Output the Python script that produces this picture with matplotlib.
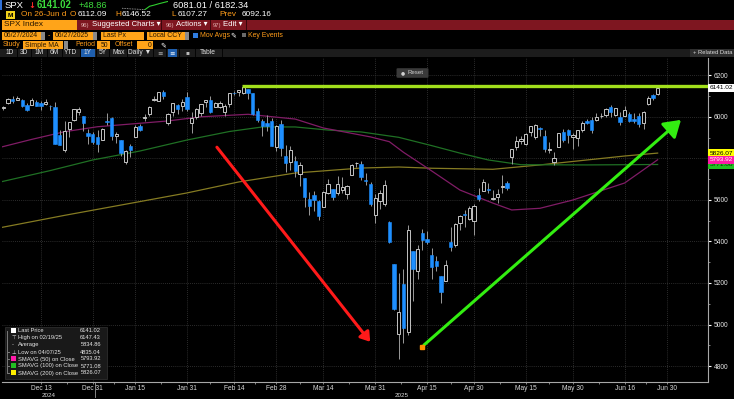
import matplotlib
matplotlib.use('Agg')
import matplotlib.pyplot as plt
from matplotlib import font_manager as fm
from matplotlib.patches import Rectangle, FancyArrowPatch, FancyBboxPatch
import matplotlib.transforms as mtransforms
import numpy as np
import pandas as pd

W, H, DPI = 734, 399, 100

_names = {f.name for f in fm.fontManager.ttflist}
if 'Liberation Sans Narrow' in _names:
    FONT = ['Liberation Sans Narrow', 'DejaVu Sans']
    FS = 1.0
else:
    FONT = ['Liberation Sans', 'DejaVu Sans']
    FS = 0.85
plt.rcParams['font.family'] = FONT

# ---------------- data ----------------
holidays = ['2024-12-25', '2025-01-01', '2025-01-09', '2025-01-20', '2025-02-17',
            '2025-04-18', '2025-05-26', '2025-06-19']
days = pd.bdate_range('2024-12-02', '2025-06-30').difference(pd.to_datetime(holidays))
pos = {d.strftime('%Y-%m-%d'): i for i, d in enumerate(days)}

opens = [
    # Dec 2024
    6040.11, 6042.97, 6069.39, 6089.03, 6081.38, 6083.01, 6057.59, 6060.15, 6074.29, 6068.17,
    6063.79, 6052.55, 6047.65, 5912.71, 5842.00, 5940.25, 5984.63, 6024.97, 6006.17, 5920.67, 5919.74,
    # Jan
    5903.26, 5891.07, 5982.81, 5993.26, 5910.66, 5890.65, 5782.34, 5859.19, 5905.21, 5957.99,
    5995.18, 6014.12, 6081.39, 6076.32, 6121.43, 5969.04, 6026.01, 6057.70, 6050.75, 6096.79,
    # Feb
    5969.65, 5998.14, 6020.45, 6072.22, 6083.13, 6046.40, 6049.32, 6025.08, 6060.59, 6115.52,
    6121.60, 6117.76, 6134.50, 6114.82, 6026.69, 5982.73, 5970.87, 5981.88, 5856.74,
    # Mar
    5968.33, 5811.98, 5781.38, 5785.87, 5726.01, 5705.37, 5603.65, 5624.84, 5594.45, 5563.85,
    5635.60, 5654.53, 5632.37, 5646.92, 5630.73, 5718.08, 5775.96, 5771.66, 5695.64, 5679.11, 5527.91,
    # Apr
    5597.53, 5580.76, 5492.74, 5292.14, 4953.79, 5193.57, 4965.28, 5353.15, 5255.56, 5441.96,
    5411.99, 5335.75, 5305.45, 5232.94, 5207.67, 5395.92, 5381.38, 5489.73, 5529.22, 5508.87, 5499.44,
    # May
    5625.14, 5645.52, 5655.32, 5605.89, 5614.35, 5663.58, 5679.96, 5807.12, 5854.20, 5886.05,
    5869.83, 5929.06, 5902.88, 5944.66, 5910.72, 5841.26, 5781.89, 5854.07, 5925.51, 5938.31, 5903.67,
    # Jun
    5896.68, 5938.56, 5978.94, 5985.67, 5987.06, 6004.60, 6009.91, 6049.38, 6009.90, 6000.56,
    6004.00, 6012.15, 5987.93, 6004.20, 5969.67, 6061.17, 6104.38, 6112.09,
]
highs = [
    6053.58, 6052.06, 6089.84, 6099.97, 6099.97, 6088.51, 6065.40, 6092.59, 6079.68, 6078.58,
    6085.19, 6057.68, 6070.67, 5935.52, 5982.06, 5978.25, 6040.10, 6049.75, 6006.17, 5940.79, 5929.74,
    5935.09, 5949.34, 6021.04, 6000.68, 5927.89, 5890.65, 5838.92, 5871.92, 5960.61, 5964.69,
    6014.96, 6051.51, 6100.81, 6118.73, 6128.18, 6017.17, 6069.10, 6062.83, 6086.64, 6120.91,
    6022.13, 6042.48, 6062.86, 6084.03, 6101.28, 6073.38, 6076.28, 6063.01, 6116.91, 6127.47,
    6129.63, 6147.43, 6134.50, 6114.82, 6043.65, 5992.65, 6009.82, 5993.69, 5959.40,
    5986.09, 5865.08, 5860.59, 5812.08, 5783.01, 5705.37, 5636.30, 5642.19, 5597.78, 5645.27,
    5703.52, 5654.53, 5715.33, 5711.15, 5670.84, 5775.14, 5783.38, 5786.95, 5732.28, 5685.89, 5627.56,
    5650.57, 5695.31, 5499.53, 5292.14, 5246.57, 5267.47, 5481.34, 5353.15, 5381.46, 5459.46,
    5450.41, 5367.24, 5328.31, 5232.94, 5309.60, 5469.69, 5489.40, 5528.11, 5553.66, 5571.95, 5581.84,
    5658.91, 5700.70, 5683.40, 5649.40, 5654.69, 5720.10, 5691.68, 5844.19, 5906.63, 5906.00,
    5924.21, 5958.62, 5968.61, 5953.06, 5938.37, 5878.08, 5829.51, 5924.33, 5939.92, 5943.13, 5922.14,
    5937.40, 5981.35, 5990.48, 5999.70, 6016.87, 6021.31, 6043.01, 6059.40, 6045.43, 6026.16,
    6050.83, 6023.25, 6018.25, 6018.20, 6028.85, 6101.23, 6108.51, 6146.52,
]
lows = [
    6035.33, 6033.39, 6061.06, 6069.18, 6079.98, 6048.63, 6029.89, 6060.15, 6051.25, 6035.77,
    6059.14, 6035.19, 5867.79, 5866.07, 5832.30, 5902.57, 5981.44, 6007.37, 5932.95, 5869.16, 5868.86,
    5829.53, 5888.66, 5960.01, 5890.68, 5874.78, 5809.86, 5773.31, 5805.48, 5905.21, 5930.92,
    5978.44, 6006.88, 6076.38, 6074.67, 6088.74, 5962.92, 6003.57, 6012.96, 6027.46, 6030.93,
    5923.93, 5990.87, 6007.06, 6046.83, 6019.96, 6045.88, 6042.34, 6003.00, 6050.13, 6107.62,
    6099.51, 6111.15, 6084.59, 6008.56, 5977.83, 5908.49, 5932.69, 5858.78, 5837.66,
    5810.91, 5732.59, 5742.35, 5711.64, 5666.29, 5564.02, 5528.41, 5546.09, 5504.65, 5563.85,
    5631.12, 5597.76, 5622.20, 5632.28, 5603.10, 5718.08, 5759.93, 5694.71, 5670.94, 5572.42, 5488.73,
    5558.52, 5571.48, 5390.83, 5069.90, 4835.04, 4910.42, 4948.43, 5115.27, 5220.77, 5358.02,
    5386.44, 5220.79, 5255.58, 5101.63, 5207.67, 5356.28, 5371.96, 5455.86, 5468.64, 5505.70, 5433.24,
    5597.35, 5644.03, 5634.48, 5598.95, 5585.98, 5635.64, 5646.79, 5775.23, 5843.25, 5869.42,
    5865.21, 5907.54, 5895.69, 5909.26, 5830.91, 5825.82, 5767.41, 5854.07, 5881.88, 5873.80, 5843.66,
    5861.43, 5929.00, 5966.11, 5921.20, 5978.63, 5994.18, 6000.26, 6002.32, 6003.88, 5963.21,
    6004.00, 5974.80, 5971.89, 5952.56, 5943.23, 6058.29, 6080.06, 6107.27,
]
closes = [
    6047.15, 6049.88, 6086.49, 6075.11, 6090.27, 6052.85, 6034.91, 6084.19, 6051.25, 6051.09,
    6074.08, 6050.61, 5872.16, 5867.08, 5930.85, 5974.07, 6040.04, 6037.59, 5970.84, 5906.94, 5881.63,
    5868.55, 5942.47, 5975.38, 5909.03, 5918.25, 5827.04, 5836.22, 5842.91, 5949.91, 5937.34,
    5996.66, 6049.24, 6086.37, 6118.71, 6101.24, 6012.28, 6067.70, 6039.31, 6071.17, 6040.53,
    5994.57, 6037.88, 6061.48, 6083.57, 6025.99, 6066.44, 6068.50, 6051.97, 6115.07, 6114.63,
    6129.58, 6144.15, 6117.52, 6013.13, 5983.25, 5955.25, 5956.06, 5861.57, 5954.50,
    5849.72, 5778.15, 5842.63, 5738.52, 5770.20, 5614.56, 5572.07, 5599.30, 5521.52, 5638.94,
    5675.12, 5614.66, 5675.29, 5662.89, 5667.56, 5767.57, 5776.65, 5712.20, 5693.31, 5580.94, 5611.85,
    5633.07, 5670.97, 5396.52, 5074.08, 5062.25, 4982.77, 5456.90, 5268.05, 5363.36, 5405.97,
    5396.63, 5275.70, 5282.70, 5158.20, 5287.76, 5375.86, 5484.77, 5525.21, 5528.75, 5560.83, 5569.06,
    5604.14, 5686.67, 5650.38, 5606.91, 5631.28, 5663.94, 5659.91, 5844.19, 5886.55, 5892.58,
    5916.93, 5958.38, 5963.60, 5940.46, 5844.61, 5842.01, 5802.82, 5921.54, 5888.55, 5912.17, 5911.69,
    5935.94, 5970.37, 5970.81, 5939.30, 6000.36, 6005.88, 6038.81, 6022.24, 6045.26, 5976.97,
    6033.11, 5982.72, 5980.87, 5967.84, 6025.17, 6092.18, 6092.16, 6141.02,
]

ma50_dates = ['2024-12-02', '2024-12-11', '2024-12-20', '2025-01-02', '2025-01-14', '2025-01-27',
              '2025-02-05', '2025-02-20', '2025-03-06', '2025-03-14', '2025-03-28', '2025-04-03',
              '2025-04-08', '2025-04-16', '2025-04-25', '2025-05-06', '2025-05-12', '2025-05-20',
              '2025-05-30', '2025-06-16', '2025-06-26']
ma50_vals = [5852, 5892, 5929, 5953, 5966, 5981, 6001, 6013, 5990, 5947, 5904, 5881,
             5830, 5740, 5648, 5585, 5552, 5560, 5600, 5682, 5793.92]
ma100_dates = ['2024-12-02', '2024-12-17', '2024-12-31', '2025-01-16', '2025-01-31', '2025-02-13',
               '2025-02-25', '2025-03-06', '2025-03-17', '2025-03-26', '2025-04-07', '2025-04-16',
               '2025-04-25', '2025-05-05', '2025-05-14', '2025-06-04', '2025-06-26']
ma100_vals = [5685, 5742, 5793, 5836, 5889, 5930, 5952, 5952, 5937, 5928, 5902, 5862,
              5826, 5793, 5770, 5769, 5771.08]
ma200_dates = ['2024-12-02', '2024-12-20', '2025-01-14', '2025-01-31', '2025-02-18', '2025-03-06',
               '2025-03-26', '2025-04-07', '2025-04-16', '2025-05-06', '2025-05-20', '2025-06-16',
               '2025-06-26']
ma200_vals = [5465, 5526, 5584, 5634, 5687, 5730, 5754, 5759, 5753, 5748, 5769, 5812, 5826.07]

tick_dates = ['2024-12-13', '2024-12-31', '2025-01-15', '2025-01-31', '2025-02-14', '2025-02-28',
              '2025-03-14', '2025-03-31', '2025-04-15', '2025-04-30', '2025-05-15', '2025-05-30',
              '2025-06-16', '2025-06-30']
tick_labels = ['Dec 13', 'Dec 31', 'Jan 15', 'Jan 31', 'Feb 14', 'Feb 28', 'Mar 14', 'Mar 31',
               'Apr 15', 'Apr 30', 'May 15', 'May 30', 'Jun 16', 'Jun 30']
y_ticks = [4800, 5000, 5200, 5400, 5600, 5800, 6000, 6200]

last_price = 6141.02
high_date, high_value = '2025-02-19', 6147.43
red_arrow_pos, red_arrow_val = [46.0, 79.3], [5865, 4906]
green_arrow_pos, green_arrow_val = [89.9, 145.4], [4892, 5995]
spark_prev = [6100, 6098, 6096, 6095, 6093, 6092]
spark_today = [6092, 6112, 6119, 6127, 6134, 6141]

legend_labels = ['Last Price', 'High on 02/19/25', 'Average', 'Low on 04/07/25',
                 'SMAVG (50) on Close', 'SMAVG (100) on Close', 'SMAVG (200) on Close']
legend_values = ['6141.02', '6147.43', '5834.86', '4835.04', '5793.92', '5771.08', '5826.07']

# ---------------- figure ----------------
fig = plt.figure(figsize=(W / DPI, H / DPI), dpi=DPI, facecolor='black')

ORANGE = '#ffa419'
OTXT = '#ff9c1a'
DARK = '#2a1800'


def T(x, y, s, color='white', size=6.0, weight='normal', ha='left', va='center', family=None, **kw):
    return fig.text(x / W, 1 - y / H, s, color=color, fontsize=size * FS, fontweight=weight,
                    ha=ha, va=va, family=family or FONT, **kw)


def R(x, y, w, h, color, ec='none', lw=0, z=1):
    fig.add_artist(Rectangle((x / W, 1 - (y + h) / H), w / W, h / H, transform=fig.transFigure,
                             facecolor=color, edgecolor=ec, linewidth=lw, zorder=z))


# Row 1
R(0, 0, 2.2, 10, '#2f6fd6')
T(5, 5, 'SPX', size=8)
T(28, 5, '\u2193', color='#ff2a2a', size=7, weight='bold', family=['DejaVu Sans'])
T(37, 5, '6141.02', color='#3ddc3d', size=8.2, weight='bold')
T(79, 5, '+48.86', color='#3ddc3d', size=7.8)
sp = fig.add_axes([122 / W, 1 - 10 / H, 46 / W, 9 / H])
sp.set_axis_off()
sp.plot(range(len(spark_prev)), spark_prev, color='#bbbbbb', lw=0.6, ls=(0, (1, 1)))
sp.plot(range(len(spark_prev) - 1, len(spark_prev) - 1 + len(spark_today)), spark_today,
        color='#2fcf2f', lw=0.8)
sp.set_xlim(0, len(spark_prev) + len(spark_today) - 2)
T(173, 5, '6081.01 / 6182.34', size=7.8)

# Row 2
R(6, 11, 9, 8, '#f2d21b')
T(10.5, 15.2, 'M', color='black', size=5.5, weight='bold', ha='center')
T(21, 15, 'On 26-Jun d', color=OTXT, size=7)
T(70, 15, 'O', color=OTXT, size=7)
T(78, 15, '6112.09', size=7)
T(115, 15, 'H', color=OTXT, size=7)
T(122, 15, '6146.52', size=7)
T(171, 15, 'L', color=OTXT, size=7)
T(178, 15, '6107.27', size=7)
T(219, 15, 'Prev', color=OTXT, size=7)
T(242, 15, '6092.16', size=7)

# Row 3
R(77, 20.5, 657, 9, '#7e1620')
R(2, 20.5, 75, 9, ORANGE)
T(4, 25, 'SPX Index', color=DARK, size=7)
for sx in (161, 210, 246):
    R(sx, 20.5, 1.2, 9, '#3a060b')
T(81, 25, '96)', color='#e0b0b0', size=5)
T(92, 25, 'Suggested Charts \u25be', size=6.6, family=FONT)
T(166, 25, '96)', color='#e0b0b0', size=5)
T(176, 25, 'Actions \u25be', size=6.6)
T(213, 25, '97)', color='#e0b0b0', size=5)
T(223, 25, 'Edit \u25be', size=6.6)

# Row 4
R(2, 31.5, 39, 8, ORANGE); T(4, 35.6, '06/27/2024', color=DARK, size=5.8); R(41, 31.5, 4, 8, '#8a8a8a')
T(48, 35.5, '-', color=OTXT, size=6)
R(53, 31.5, 40, 8, ORANGE); T(55, 35.6, '06/27/2025', color=DARK, size=5.8); R(93, 31.5, 4, 8, '#8a8a8a')
R(101, 31.5, 43, 8, ORANGE); T(103, 35.6, 'Last Px', color=DARK, size=5.8)
R(147, 31.5, 38, 8, ORANGE); T(149, 35.6, 'Local CCY', color=DARK, size=5.8); R(185, 31.5, 4, 8, '#8a8a8a')
R(193, 33, 4.5, 4.5, '#2f7de0')
T(200, 35.6, 'Mov Avgs', color=OTXT, size=5.8)
T(230, 35.5, '\u270e', size=6, family=['DejaVu Sans'])
R(242, 33, 4, 4, '#6a6a6a')
T(248, 35.6, 'Key Events', color=OTXT, size=5.8)

# Row 5
T(3, 45, 'Study', color=OTXT, size=5.8)
R(23, 41.5, 40, 7.5, ORANGE); T(25, 45.1, 'Simple MA', color=DARK, size=5.8); R(64, 41.5, 4, 7.5, '#8a8a8a')
T(75, 45, 'Period', color=OTXT, size=5.8)
R(97, 41.5, 13, 7.5, ORANGE); T(108.5, 45.1, '50', color=DARK, size=5.8, ha='right')
T(115, 45, 'Offset', color=OTXT, size=5.8)
R(137, 41.5, 16, 7.5, ORANGE); T(151.5, 45.1, '0', color=DARK, size=5.8, ha='right')
T(160, 45, '\u270e', size=6, family=['DejaVu Sans'])

# Row 6
R(0, 49, 734, 8, '#1c1c1c')
R(81, 49.5, 14, 7, '#1f5fae')
R(168, 49.5, 9, 7, '#1f5fae')
for sx in (17, 31, 47, 62, 80, 96, 109, 127, 153, 166, 179, 195, 222):
    R(sx, 49.5, 0.8, 7, '#050505')
for lab, cx in [('1D', 10), ('3D', 24), ('1M', 39.5), ('6M', 54.5), ('YTD', 71), ('1Y', 88),
                ('5Y', 102.5), ('Max', 118.5), ('Daily \u25bc', 140)]:
    T(cx, 53, lab, color='#e0e0e0', size=5.6, ha='center')
T(160, 53, '\u2261', color='#bbbbbb', size=5.5, ha='center', family=['DejaVu Sans'])
T(172.5, 53, '\u2261', color='white', size=5.5, ha='center', family=['DejaVu Sans'])
T(187, 53, '\u25aa', color='#bbbbbb', size=5, ha='center', family=['DejaVu Sans'])
T(208, 53, 'Table', color='#e0e0e0', size=5.6, ha='center')
R(690, 49, 44, 8, '#2e2e2e')
T(693, 53, '+ Related Data', color='#dddddd', size=5.0)

# ---------------- chart ----------------
ax = fig.add_axes([2 / W, (H - 382) / H, 706 / W, 324 / H])
ax.set_facecolor('black')
ax.set_xlim(0.71, 150.7)
ax.set_ylim(4722.9, 6284.3)

o = np.array(opens); h = np.array(highs); l = np.array(lows); c = np.array(closes)
x = np.arange(len(c))
up = c >= o
bot = np.minimum(o, c)
ht = np.maximum(np.abs(c - o), 2.5)
ax.vlines(x, l, h, color='#9a9a9a', lw=0.7, zorder=3)
ax.bar(x[up], ht[up], bottom=bot[up], width=0.7, color='black', edgecolor='#c4c4c4',
       linewidth=0.7, zorder=4)
ax.bar(x[~up], ht[~up], bottom=bot[~up], width=0.7, color='#1e8fff', edgecolor='#1e8fff',
       linewidth=0.4, zorder=4)

ax.plot([pos[d] for d in ma200_dates], ma200_vals, color='#857b22', lw=0.9, zorder=2)
ax.plot([pos[d] for d in ma100_dates], ma100_vals, color='#1f7024', lw=0.9, zorder=2)
ax.plot([pos[d] for d in ma50_dates], ma50_vals, color='#801c66', lw=0.9, zorder=2)

ax.hlines(high_value, pos[high_date] - 0.3, 150.7, color='#a2e01c', lw=2.4, zorder=5)

ax.add_patch(FancyArrowPatch((red_arrow_pos[0], red_arrow_val[0]), (red_arrow_pos[1], red_arrow_val[1]),
                             arrowstyle='-|>,head_length=0.45,head_width=0.3', mutation_scale=12,
                             color='#ff1a1a', lw=2.2, zorder=6))
ax.add_patch(FancyArrowPatch((green_arrow_pos[0], green_arrow_val[0]), (green_arrow_pos[1], green_arrow_val[1]),
                             arrowstyle='-|>,head_length=0.7,head_width=0.45', mutation_scale=14,
                             color='#33ee11', lw=2.2, zorder=6))
ax.plot([green_arrow_pos[0]], [green_arrow_val[0]], marker='s', ms=2.8, color='#ff8c00',
        mec='#ff8c00', zorder=7)

# axes styling
for s in ('top', 'left'):
    ax.spines[s].set_visible(False)
ax.spines['right'].set_color('#a8a8a8'); ax.spines['right'].set_linewidth(0.8)
ax.spines['bottom'].set_color('#a8a8a8'); ax.spines['bottom'].set_linewidth(0.8)
ax.yaxis.tick_right()
ax.set_yticks(y_ticks)
ax.set_yticklabels([str(v) if v != 5800 else '' for v in y_ticks])
ax.set_yticks(np.arange(4800, 6201, 100), minor=True)
ax.tick_params(axis='y', which='major', length=2.5, width=0.8, color='white',
               labelcolor='#e6e6e6', labelsize=5.6 * FS, pad=1.5)
ax.tick_params(axis='y', which='minor', length=1.5, width=0.6, color='#9a9a9a')
xt = [pos[d] for d in tick_dates]
ax.set_xticks(xt)
ax.set_xticklabels(tick_labels)
ax.set_xticks([(a + b) / 2 for a, b in zip(xt[:-1], xt[1:])], minor=True)
ax.tick_params(axis='x', which='major', length=1.5, width=0.6, color='#9a9a9a',
               labelcolor='#d8d8d8', labelsize=5.6 * FS, pad=0.8)
ax.tick_params(axis='x', which='minor', length=1.5, width=0.6, color='#9a9a9a')
ax.grid(True, which='major', color='#3a3a3a', linestyle=(0, (1, 1.5)), linewidth=0.6)
ax.set_axisbelow(True)

# year labels
yb = pos['2024-12-31'] + 0.5
xl = ax.get_xlim()
tr = mtransforms.blended_transform_factory(ax.transData, fig.transFigure)
fig.text((xl[0] + yb) / 2, 1 - 395.5 / H, '2024', transform=tr, color='#d8d8d8',
         fontsize=5.3 * FS, ha='center', va='center')
fig.text((yb + xl[1]) / 2, 1 - 395.5 / H, '2025', transform=tr, color='#d8d8d8',
         fontsize=5.3 * FS, ha='center', va='center')
ax.plot([yb, yb], [0, -0.045], transform=mtransforms.blended_transform_factory(ax.transData, ax.transAxes),
        color='#9a9a9a', lw=0.6, clip_on=False)

# right-axis value boxes
rt = mtransforms.blended_transform_factory(ax.transAxes, ax.transData)
for val, fc, tc in [(last_price, 'white', 'black'), (5771.08, '#22c022', '#0a2a0a'),
                    (5826.07, '#ffff00', 'black'), (5793.92, '#ff1aa8', 'white')]:
    ax.text(1.003, val, f'{val:.2f}', transform=rt, fontsize=5.5 * FS, color=tc, va='center',
            ha='left', clip_on=False, zorder=10,
            bbox=dict(boxstyle='square,pad=0.25', facecolor=fc, edgecolor='none'))

# Reset button
fig.add_artist(FancyBboxPatch((398 / W, 1 - 77 / H), 29 / W, 8 / H, boxstyle='round,pad=0.002',
                              transform=fig.transFigure, facecolor='#3a3a3a', edgecolor='none', zorder=3))
T(401, 73, '\u25cf', color='#cfcfcf', size=4, family=['DejaVu Sans'], zorder=4)
T(407, 73, 'Reset', color='#cfcfcf', size=5.2, zorder=4)

# legend box
R(5, 327, 102, 52, '#191919', ec='#333333', lw=0.5, z=2)
rows_y = [330.5, 337.5, 344.5, 352, 359, 366, 373]
sq = ['white', None, None, None, '#ff1aa8', '#22c022', '#ffee00']
for yy, lab, val, col in zip(rows_y, legend_labels, legend_values, sq):
    if col:
        R(11, yy - 2.6, 5, 5, col, z=3)
    T(18, yy, lab, color='#e6e6e6', size=4.9, zorder=4)
    T(101, yy, val, color='#e6e6e6', size=4.9, ha='right', zorder=4)
R(7, 331, 0.6, 43, '#777777', z=3)
for yy in rows_y[1:]:
    R(7, yy, 3, 0.6, '#777777', z=3)
T(12, 337.5, '\u22a4', color='#dddddd', size=4.5, family=['DejaVu Sans'], zorder=4)
T(12, 344.5, '-', color='#dddddd', size=5, zorder=4)
T(12, 352, '\u22a5', color='#dddddd', size=4.5, family=['DejaVu Sans'], zorder=4)

fig.savefig('out.png', dpi=DPI, facecolor='black')
